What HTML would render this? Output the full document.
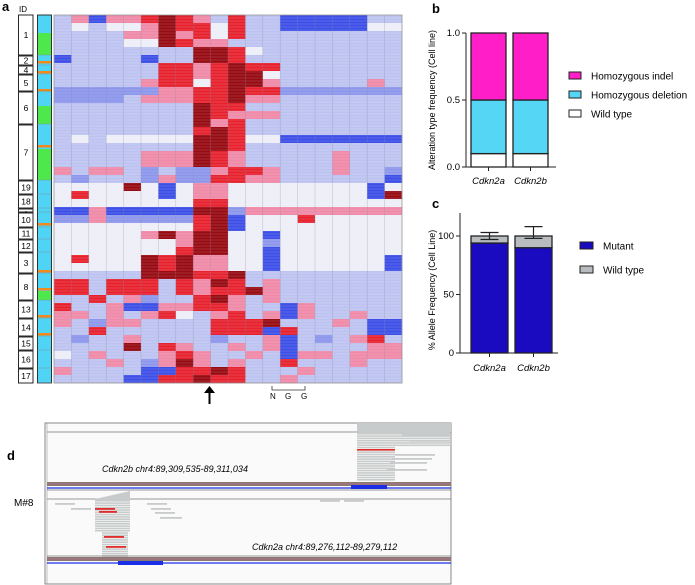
<!DOCTYPE html>
<html><head><meta charset="utf-8"><style>
body{margin:0;background:#fff}
svg{display:block;font-family:"Liberation Sans",Arial,sans-serif}
</style></head><body>
<svg id="fig" width="695" height="585" viewBox="0 0 695 585">
<g id="pa"></g>
<g id="pb"></g>
<g id="pc"></g>
<g id="pd"></g>
</svg>
<script>
// ---------- Panel a data ----------
const heatRows = [
"lpBpprdrplrllBBBBBll","lwlwwpdrrwrllBBBBBww","llllppdprwrlllllllll","llllwwdrppllllllllll",
"llllllllddrwllllllll","BllllBllddrlllllllll",
"llllllrrprdrrlllllll","llllllrrprddwlllllll","lllllprrwrddplllllpl","bbbbbbpprrdrrbbbbbbb",
"bbbblppprrdppllllll l".replace(' ',''),"lllllllldrrlllllllll","lllllllldrppplllllll","lllllllldprlllllllll",
"llllllllrdrlllllllll","lwlwwwwwddrwwBBBBBBB","llllllllddrlllllllll","lllllpppdrplllllplll",
"lllllpppdrplllllplll","plpplblbbprrplllpllb","lblllbpbbrrppllllllB","wwwwdwBwppwwwwwwwwBw",
"wrwwwwBwppwwwwwwwwBd","wwwwwwwwrrwwwwwwwwww","BBpBBBBBddbppppppppp","bbpbbbbbrdBwwwrwwwww",
"wwwwwwwwrdBwwwwwwwww","wwwwwpdpddwwBwwwwwww","wwwwwwwpddwwbwwwwwww","wwwwwwwrddwwBwwwwwww",
"wrwwwdrdppwwBwwwwwwB","wwwwwdrdppwwBwwwwwwB","llllldddrrdlllllllll","rrlrrrlrpdrlplllllll",
"rrlrrrlrprrdplllllll","llrlpbllrdplplllllll","rllpBBpprrpllBplllll","pplplprwlprlpBpllpll",
"plbppllllrrrdlllplBB","llrllllllrrrBrllllBB","lbllpllllbllpBlblprl","lllldlrpllplpBllllpp",
"wlplllprpllplBpplppp","lllplbpdplpllrlllpll","pllllBBrrdrlllplllll","llllBBrrdrrllpllllll"
];
const heatColors = {B:"#3d4fe6",b:"#8c97ec",l:"#bdc3f0",w:"#eeeef8",p:"#ef8aa8",r:"#e6222e",d:"#970b12"};
const idLabels = ["1","2","4","5","6","7","19","18","9","10","11","12","3","8","13","14","15","16","17"];
const idStarts = [15,56,66,75,92,125,181,195,209,213,228,240,253,274,301,319,337,351,369];
const idEnds   = [55,65,74,91,124,180,194,208,212,227,239,252,273,300,318,336,350,368,383];
const greenSegs = [[33,55],[106,124],[149,180],[291,300]];
const orangeMarks = [61,71,89,145,223,270,288,315,333];

// ---------- Panel b data ----------
const bGenes = ["Cdkn2a","Cdkn2b"];
const bWild = [0.1,0.1];
const bDeletion = [0.4,0.4];
const bIndel = [0.5,0.5];
const bTicks = [0,0.5,1.0];
const bTickLabels = ["0.0","0.5","1.0"];

// ---------- Panel c data ----------
const cGenes = ["Cdkn2a","Cdkn2b"];
const cMutant = [94,90];
const cWild = [6,10];
const cErrTop = [103,108];
const cErrBottom = [97,98];
const cTicks = [0,50,100];

const NS="http://www.w3.org/2000/svg";
function mk(parent,tag,attrs,text){const e=document.createElementNS(NS,tag);for(const k in attrs)e.setAttribute(k,attrs[k]);if(text!==undefined)e.textContent=text;parent.appendChild(e);return e;}

// ---------- Panel a ----------
const pa=document.getElementById('pa');
let t=mk(pa,'text',{x:2,y:11,'font-size':13,'font-weight':'bold'},'a');


t=mk(pa,'text',{x:19,y:12,'font-size':8},'ID');


const hx0=54,hx1=402,hy0=15,hy1=383;
const nCols=20,nRows=heatRows.length;
const cw=(hx1-hx0)/nCols, rh=(hy1-hy0)/nRows;
function hx(c){return hx0+c*cw;}
function hy(r){return hy0+r*rh;}
heatRows.forEach((row,r)=>{
  for(let c=0;c<nCols;c++){
    const ch=row[c]||'l';
    const cell=mk(pa,'rect',{x:hx(c),y:hy(r),width:cw+0.3,height:rh+0.3,fill:heatColors[ch]});
    
    
  }
});
const lines=mk(pa,'g',{});
for(let y=hy0+3;y<hy1;y+=3){mk(lines,'line',{x1:hx0,x2:hx1,y1:y,y2:y,stroke:'#fff','stroke-opacity':0.3,'stroke-width':0.6});}
for(let c=1;c<nCols;c++){mk(lines,'line',{x1:hx(c),x2:hx(c),y1:hy0,y2:hy1,stroke:'#8a8aa0','stroke-opacity':0.5,'stroke-width':0.5});}
mk(pa,'rect',{x:hx0,y:hy0,width:hx1-hx0,height:hy1-hy0,fill:'none',stroke:'#999','stroke-width':0.8});
idLabels.forEach((lab,i)=>{
  const b=mk(pa,'rect',{x:18.5,y:idStarts[i],width:14.5,height:idEnds[i]-idStarts[i],fill:'#fff',stroke:'#111','stroke-width':0.9});
  
  
  const tx=mk(pa,'text',{x:26,y:(idStarts[i]+idEnds[i])/2+3,'font-size':(idEnds[i]-idStarts[i]<8)?4:8.5,'text-anchor':'middle'},lab);
  
  
});
const cb=mk(pa,'rect',{x:37.5,y:15,width:14,height:368,fill:'#4fd4f6',stroke:'#222','stroke-width':0.9});


greenSegs.forEach(s=>mk(pa,'rect',{x:38,y:s[0],width:13,height:s[1]-s[0],fill:'#4ee84c'}));
orangeMarks.forEach(y=>mk(pa,'rect',{x:38,y:y,width:13,height:2.5,fill:'#f08a1c'}));
idEnds.forEach(y=>mk(pa,'line',{x1:37.5,x2:51.5,y1:y,y2:y,stroke:'#888','stroke-width':0.4}));
const ar=mk(pa,'g',{});


mk(ar,'line',{x1:209.5,x2:209.5,y1:391,y2:404,stroke:'#000','stroke-width':2});
mk(ar,'polygon',{points:'204,393 215,393 209.5,386',fill:'#000'});
const ngg=mk(pa,'g',{});


mk(ngg,'polyline',{points:'272,386 272,390 305,390 305,386',fill:'none',stroke:'#333','stroke-width':0.8});
mk(ngg,'text',{x:270,y:399,'font-size':8},'N');
mk(ngg,'text',{x:285,y:399,'font-size':8},'G');
mk(ngg,'text',{x:301,y:399,'font-size':8},'G');

// ---------- Panel b ----------
const pb=document.getElementById('pb');
t=mk(pb,'text',{x:432,y:13,'font-size':13,'font-weight':'bold'},'b');


const bAx=466,bY0=167,bY1=33;
function by(v){return bY0-(bY0-bY1)*v;}
const bBarX=[471,513], bBarW=35;
bGenes.forEach((g,i)=>{
  const segs=[[0,bWild[i],'#ffffff','wild-type'],[bWild[i],bWild[i]+bDeletion[i],'#55d6f4','homozygous-deletion'],[bWild[i]+bDeletion[i],bWild[i]+bDeletion[i]+bIndel[i],'#ff1ec8','homozygous-indel']];
  segs.forEach(s=>{
    const r=mk(pb,'rect',{x:bBarX[i],y:by(s[1]),width:bBarW,height:by(s[0])-by(s[1]),fill:s[2],stroke:'#222','stroke-width':1.3});
    
    
  });
  mk(pb,'line',{x1:bBarX[i]+bBarW/2,x2:bBarX[i]+bBarW/2,y1:bY0,y2:bY0+4,stroke:'#222'});
  const l=mk(pb,'text',{x:bBarX[i]+bBarW/2,y:184,'font-size':9.5,'font-style':'italic','text-anchor':'middle'},g);
  
  
});
mk(pb,'line',{x1:bAx,x2:bAx,y1:bY1,y2:bY0,stroke:'#222','stroke-width':1});
mk(pb,'line',{x1:bAx,x2:556,y1:bY0,y2:bY0,stroke:'#222','stroke-width':1});
bTicks.forEach((v,i)=>{
  mk(pb,'line',{x1:bAx-4,x2:bAx,y1:by(v),y2:by(v),stroke:'#222'});
  const tl=mk(pb,'text',{x:bAx-6,y:by(v)+3,'font-size':9.5,'text-anchor':'end'},bTickLabels[i]);
  
  
});
t=mk(pb,'text',{x:0,y:0,'font-size':9,'text-anchor':'middle',transform:'translate(435,100) rotate(-90)'},'Alteration type frequency (Cell line)');


[['Homozygous indel','#ff1ec8',76],['Homozygous deletion','#55d6f4',95],['Wild type','#ffffff',114]].forEach(e=>{
  const g=mk(pb,'g',{});
  
  
  mk(g,'rect',{x:569,y:e[2]-4,width:12,height:7,fill:e[1],stroke:'#222','stroke-width':1});
  mk(g,'text',{x:591,y:e[2]+3.5,'font-size':10},e[0]);
});

// ---------- Panel c ----------
const pc=document.getElementById('pc');
t=mk(pc,'text',{x:432,y:208,'font-size':13,'font-weight':'bold'},'c');


const cAx=460,cY0=353,cPx=1.17;
function cy(v){return cY0-v*cPx;}
const cBarX=[471,515],cBarW=37;
cGenes.forEach((g,i)=>{
  const m=mk(pc,'rect',{x:cBarX[i],y:cy(cMutant[i]),width:cBarW,height:cy(0)-cy(cMutant[i]),fill:'#1a0ac0',stroke:'#222','stroke-width':1.3});
  
  
  const w=mk(pc,'rect',{x:cBarX[i],y:cy(cMutant[i]+cWild[i]),width:cBarW,height:cy(cMutant[i])-cy(cMutant[i]+cWild[i]),fill:'#b8bcbf',stroke:'#222','stroke-width':1.3});
  
  
  const cx=cBarX[i]+cBarW/2;
  const eb=mk(pc,'g',{stroke:'#222','stroke-width':1.2});
  
  
  mk(eb,'line',{x1:cx,x2:cx,y1:cy(cErrTop[i]),y2:cy(cErrBottom[i])});
  mk(eb,'line',{x1:cx-9,x2:cx+9,y1:cy(cErrTop[i]),y2:cy(cErrTop[i])});
  mk(eb,'line',{x1:cx-9,x2:cx+9,y1:cy(cErrBottom[i]),y2:cy(cErrBottom[i])});
  mk(pc,'line',{x1:cx,x2:cx,y1:cY0,y2:cY0+4,stroke:'#222'});
  const l=mk(pc,'text',{x:cx,y:371,'font-size':9.5,'font-style':'italic','text-anchor':'middle'},g);
  
  
});
mk(pc,'line',{x1:cAx,x2:cAx,y1:213,y2:cY0,stroke:'#222'});
mk(pc,'line',{x1:cAx,x2:558,y1:cY0,y2:cY0,stroke:'#222'});
cTicks.forEach(v=>{
  mk(pc,'line',{x1:cAx-4,x2:cAx,y1:cy(v),y2:cy(v),stroke:'#222'});
  const tl=mk(pc,'text',{x:cAx-6,y:cy(v)+3,'font-size':9.5,'text-anchor':'end'},String(v));
  
  
});
t=mk(pc,'text',{x:0,y:0,'font-size':9,'text-anchor':'middle',transform:'translate(435,290) rotate(-90)'},'% Allele Frequency (Cell Line)');


[['Mutant','#1a0ac0',246],['Wild type','#b8bcbf',270]].forEach(e=>{
  const g=mk(pc,'g',{});
  
  
  mk(g,'rect',{x:580,y:e[2]-4,width:13,height:7,fill:e[1],stroke:'#222','stroke-width':1});
  mk(g,'text',{x:603,y:e[2]+3.5,'font-size':10},e[0]);
});

// ---------- Panel d ----------
const pd=document.getElementById('pd');
t=mk(pd,'text',{x:7,y:460,'font-size':13,'font-weight':'bold'},'d');


mk(pd,'rect',{x:45,y:423,width:406,height:161,fill:'#fafafa',stroke:'#888','stroke-width':1});
mk(pd,'line',{x1:47,x2:451,y1:432,y2:432,stroke:'#777','stroke-width':0.8});
mk(pd,'line',{x1:47,x2:47,y1:423,y2:584,stroke:'#999','stroke-width':0.6});
const rdTop=mk(pd,'g',{fill:'#c8cbcb'});


mk(rdTop,'polygon',{points:'357,423 451,423 451,432 357,432'});
for(let y=433;y<480;y+=2.3){mk(rdTop,'rect',{x:357,y:y,width:(y<445?94:38),height:1.6});}
[[402,434,49],[410,440,41],[395,454,40],[392,458,40],[390,462,37],[387,469,40]].forEach(a=>mk(rdTop,'rect',{x:a[0],y:a[1],width:a[2],height:1.8}));
mk(pd,'rect',{x:357,y:449,width:38,height:1.6,fill:'#e32b2b'});
t=mk(pd,'text',{x:102,y:472,'font-size':9,'font-style':'italic'},'Cdkn2b  chr4:89,309,535-89,311,034');


function track(y){
  const g=mk(pd,'g',{});
  
  
  mk(g,'rect',{x:47,y:y,width:404,height:4,fill:'#8a7a6a'});
  mk(g,'rect',{x:47,y:y+1,width:404,height:1.5,fill:'#b06a9a','fill-opacity':0.6});
  mk(g,'line',{x1:47,x2:451,y1:y+6,y2:y+6,stroke:'#1a2ee8','stroke-width':1.2});
  return g;
}
track(482);
mk(pd,'rect',{x:351,y:485,width:36,height:4,fill:'#1a2ee8'});
mk(pd,'line',{x1:47,x2:451,y1:490,y2:490,stroke:'#777','stroke-width':0.8});
t=mk(pd,'text',{x:14,y:506,'font-size':10},'M#8');


mk(pd,'line',{x1:47,x2:451,y1:499,y2:499,stroke:'#777','stroke-width':0.8});
const rdB=mk(pd,'g',{fill:'#c8cbcb'});


mk(rdB,'polygon',{points:'95,499 130,491 130,499'});
for(let y=500;y<556;y+=2.3){mk(rdB,'rect',{x:(y<530?95:102),y:y,width:(y<530?35:26),height:1.6});}
[[55,503,20],[71,508,20],[147,503,20],[151,508,20],[155,512,20],[160,517,22],[320,500,20],[344,500,20]].forEach(a=>mk(rdB,'rect',{x:a[0],y:a[1],width:a[2],height:1.8}));
[[95,508,20],[99,511,18],[104,536,20],[106,546,20]].forEach(a=>mk(pd,'rect',{x:a[0],y:a[1],width:a[2],height:1.8,fill:'#e32b2b'}));
t=mk(pd,'text',{x:252,y:550,'font-size':9,'font-style':'italic'},'Cdkn2a  chr4:89,276,112-89,279,112');


mk(pd,'line',{x1:47,x2:451,y1:556,y2:556,stroke:'#777','stroke-width':0.8});
track(557);
mk(pd,'rect',{x:118,y:561,width:45,height:4,fill:'#1a2ee8'});
</script>
</body></html>
